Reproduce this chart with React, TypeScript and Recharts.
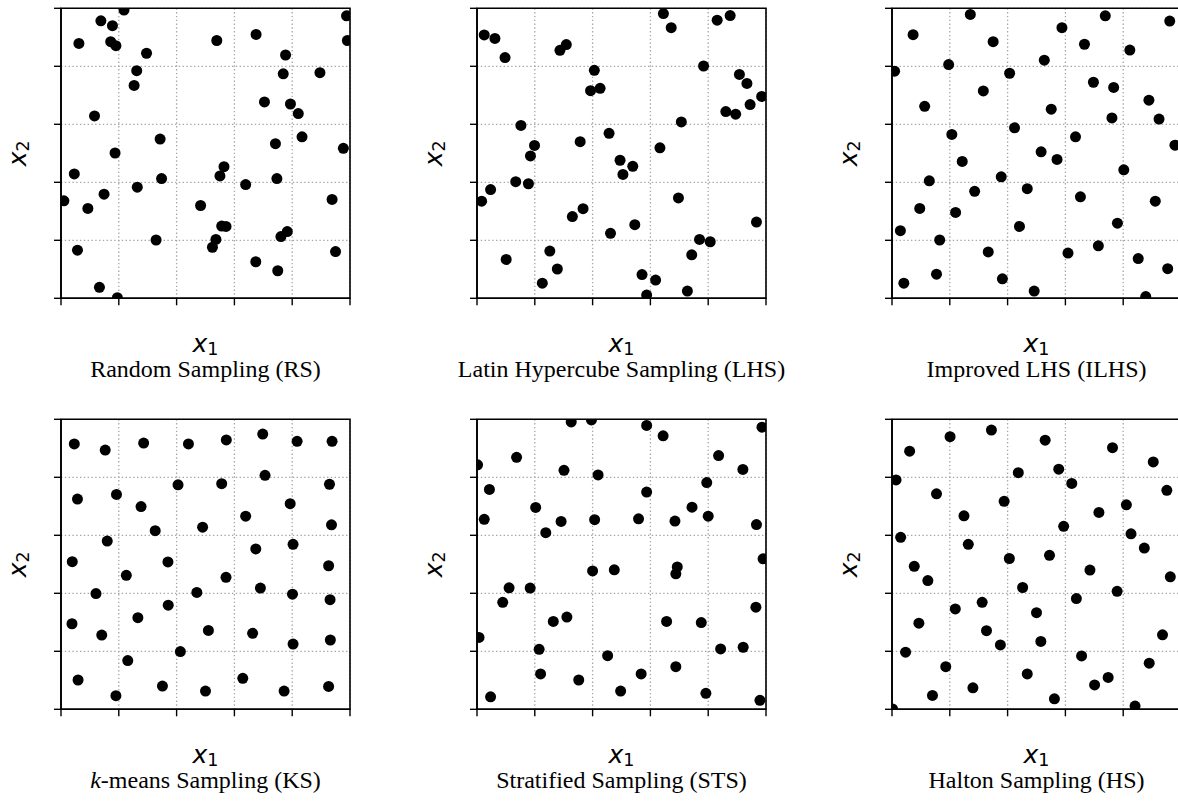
import React from 'react';
import { ScatterChart, Scatter, XAxis, YAxis, CartesianGrid, ReferenceArea } from 'recharts';

type P = [number, number];

const axisTicks = [0, 0.2, 0.4, 0.6, 0.8, 1];

const rsPoints: P[] = [
  [0.218, 0.994], [0.138, 0.957], [0.178, 0.94], [0.062, 0.879], [0.172, 0.885],
  [0.19, 0.871], [0.296, 0.845], [0.262, 0.785], [0.253, 0.734], [0.116, 0.629],
  [0.343, 0.549], [0.187, 0.501], [0.046, 0.429], [0.348, 0.413], [0.264, 0.383],
  [0.149, 0.359], [0.01, 0.336], [0.093, 0.31], [0.329, 0.201], [0.057, 0.166],
  [0.133, 0.038], [0.195, 0.002], [0.539, 0.889], [0.675, 0.91], [0.988, 0.974],
  [0.991, 0.889], [0.777, 0.839], [0.769, 0.774], [0.896, 0.778], [0.704, 0.677],
  [0.794, 0.67], [0.821, 0.637], [0.834, 0.557], [0.742, 0.533], [0.977, 0.517],
  [0.564, 0.454], [0.55, 0.422], [0.639, 0.392], [0.747, 0.413], [0.938, 0.341],
  [0.483, 0.32], [0.556, 0.249], [0.571, 0.248], [0.783, 0.23], [0.761, 0.213],
  [0.536, 0.203], [0.524, 0.176], [0.95, 0.161], [0.674, 0.126], [0.75, 0.095],
];

const lhsPoints: P[] = [
  [0.025, 0.908], [0.062, 0.896], [0.097, 0.83], [0.287, 0.855], [0.309, 0.875],
  [0.645, 0.982], [0.672, 0.933], [0.831, 0.959], [0.876, 0.975], [0.784, 0.801],
  [0.406, 0.786], [0.393, 0.716], [0.426, 0.724], [0.908, 0.772], [0.934, 0.741],
  [0.985, 0.696], [0.945, 0.668], [0.861, 0.644], [0.895, 0.635], [0.707, 0.608],
  [0.152, 0.596], [0.457, 0.569], [0.357, 0.54], [0.199, 0.527], [0.185, 0.491],
  [0.633, 0.519], [0.495, 0.476], [0.539, 0.455], [0.505, 0.427], [0.134, 0.402],
  [0.178, 0.395], [0.047, 0.375], [0.016, 0.335], [0.697, 0.346], [0.367, 0.309],
  [0.33, 0.282], [0.546, 0.254], [0.462, 0.224], [0.967, 0.263], [0.77, 0.203],
  [0.807, 0.195], [0.252, 0.163], [0.101, 0.134], [0.278, 0.101], [0.743, 0.15],
  [0.226, 0.052], [0.571, 0.082], [0.618, 0.063], [0.587, 0.011], [0.728, 0.025],
];

const ilhsPoints: P[] = [
  [0.271, 0.979], [0.073, 0.909], [0.35, 0.885], [0.588, 0.933], [0.738, 0.974],
  [0.961, 0.956], [0.666, 0.876], [0.823, 0.856], [0.527, 0.821], [0.196, 0.806],
  [0.009, 0.783], [0.407, 0.776], [0.697, 0.745], [0.767, 0.727], [0.316, 0.715],
  [0.113, 0.662], [0.551, 0.652], [0.889, 0.683], [0.761, 0.622], [0.924, 0.618],
  [0.424, 0.588], [0.207, 0.565], [0.635, 0.557], [0.979, 0.528], [0.516, 0.505],
  [0.571, 0.479], [0.243, 0.472], [0.802, 0.443], [0.378, 0.419], [0.129, 0.405],
  [0.468, 0.378], [0.286, 0.369], [0.652, 0.35], [0.911, 0.335], [0.096, 0.31],
  [0.22, 0.296], [0.441, 0.248], [0.78, 0.259], [0.029, 0.233], [0.165, 0.201],
  [0.333, 0.16], [0.609, 0.156], [0.714, 0.181], [0.852, 0.137], [0.954, 0.102],
  [0.154, 0.083], [0.041, 0.052], [0.382, 0.067], [0.492, 0.025], [0.878, 0.006],
];

const ksPoints: P[] = [
  [0.046, 0.915], [0.153, 0.894], [0.286, 0.918], [0.441, 0.915], [0.572, 0.929],
  [0.698, 0.949], [0.817, 0.924], [0.938, 0.924], [0.706, 0.807], [0.405, 0.774],
  [0.556, 0.778], [0.929, 0.776], [0.057, 0.725], [0.192, 0.741], [0.277, 0.699],
  [0.793, 0.709], [0.639, 0.666], [0.326, 0.616], [0.49, 0.628], [0.936, 0.636],
  [0.16, 0.58], [0.803, 0.569], [0.674, 0.553], [0.039, 0.509], [0.37, 0.508],
  [0.926, 0.495], [0.226, 0.462], [0.571, 0.455], [0.69, 0.418], [0.121, 0.399],
  [0.47, 0.403], [0.801, 0.397], [0.931, 0.378], [0.371, 0.359], [0.266, 0.316],
  [0.038, 0.295], [0.141, 0.256], [0.51, 0.272], [0.663, 0.262], [0.803, 0.225],
  [0.932, 0.239], [0.413, 0.199], [0.231, 0.168], [0.059, 0.101], [0.629, 0.107],
  [0.351, 0.08], [0.19, 0.047], [0.5, 0.063], [0.772, 0.063], [0.926, 0.079],
];

const stsPoints: P[] = [
  [0.326, 0.991], [0.396, 0.998], [0.587, 0.979], [0.644, 0.943], [0.986, 0.973],
  [0.002, 0.843], [0.137, 0.869], [0.301, 0.824], [0.419, 0.808], [0.836, 0.875],
  [0.92, 0.827], [0.795, 0.782], [0.043, 0.758], [0.587, 0.749], [0.203, 0.696],
  [0.744, 0.697], [0.025, 0.655], [0.291, 0.648], [0.407, 0.654], [0.559, 0.657],
  [0.685, 0.649], [0.8, 0.666], [0.967, 0.637], [0.238, 0.609], [0.99, 0.519],
  [0.4, 0.477], [0.475, 0.481], [0.693, 0.491], [0.688, 0.467], [0.111, 0.419],
  [0.184, 0.418], [0.089, 0.369], [0.965, 0.352], [0.264, 0.303], [0.311, 0.318],
  [0.656, 0.303], [0.776, 0.299], [0.007, 0.248], [0.215, 0.207], [0.843, 0.208],
  [0.921, 0.214], [0.452, 0.185], [0.22, 0.122], [0.688, 0.147], [0.568, 0.122],
  [0.352, 0.101], [0.497, 0.063], [0.047, 0.043], [0.792, 0.055], [0.979, 0.031],
];

const hsPoints: P[] = [
  [0.344, 0.963], [0.201, 0.94], [0.53, 0.928], [0.763, 0.902], [0.061, 0.89],
  [0.904, 0.853], [0.437, 0.816], [0.577, 0.828], [0.014, 0.791], [0.622, 0.779],
  [0.951, 0.755], [0.154, 0.743], [0.388, 0.717], [0.811, 0.705], [0.716, 0.679],
  [0.249, 0.667], [0.594, 0.631], [0.03, 0.593], [0.827, 0.605], [0.264, 0.569],
  [0.873, 0.556], [0.406, 0.52], [0.545, 0.531], [0.077, 0.493], [0.685, 0.48],
  [0.963, 0.457], [0.124, 0.444], [0.452, 0.42], [0.779, 0.407], [0.638, 0.382],
  [0.312, 0.369], [0.219, 0.346], [0.5, 0.333], [0.093, 0.297], [0.327, 0.271],
  [0.936, 0.257], [0.515, 0.234], [0.375, 0.222], [0.047, 0.197], [0.656, 0.184],
  [0.89, 0.159], [0.186, 0.147], [0.468, 0.122], [0.748, 0.11], [0.701, 0.084],
  [0.28, 0.074], [0.14, 0.048], [0.562, 0.036], [0.841, 0.011], [0.002, 0.001],
];

const titles = [
  'Random Sampling (RS)',
  'Latin Hypercube Sampling (LHS)',
  'Improved LHS (ILHS)',
  '-means Sampling (KS)',
  'Stratified Sampling (STS)',
  'Halton Sampling (HS)',
];
const italicPrefixes = ['', '', '', 'k', '', ''];
const allPoints = [rsPoints, lhsPoints, ilhsPoints, ksPoints, stsPoints, hsPoints];

const SERIF = "'Liberation Serif', 'DejaVu Serif', serif";

const makeXLabel = (title: string, prefix: string) => (props: any) => {
  const vb = props.viewBox || {};
  const cx = vb.x + vb.width / 2;
  const yb = vb.y;
  return (
    <g>
      <text x={cx} y={yb + 53.4} textAnchor="middle" fontFamily="DejaVu Sans" fontSize={25} fill="#000">
        <tspan fontStyle="italic">x</tspan>
        <tspan fontSize={17.5} dy={3}>1</tspan>
      </text>
      <text x={cx} y={yb + 79} textAnchor="middle" fontFamily={SERIF} fontSize={24} fill="#000">
        {prefix ? (
          <tspan fontFamily={SERIF} fontStyle="italic">
            {prefix}
          </tspan>
        ) : null}
        <tspan fontFamily={SERIF}>{title}</tspan>
      </text>
    </g>
  );
};

const renderYLabel = (props: any) => {
  const vb = props.viewBox || {};
  const plotLeft = vb.x + vb.width;
  const tx = plotLeft - 35;
  const ty = vb.y + vb.height / 2;
  return (
    <text
      x={tx}
      y={ty}
      transform={`rotate(-90, ${tx}, ${ty})`}
      textAnchor="middle"
      fontFamily="DejaVu Sans"
      fontSize={25}
      fill="#000"
    >
      <tspan fontStyle="italic">x</tspan>
      <tspan fontSize={17.5} dy={3}>2</tspan>
    </text>
  );
};

const renderNoTick = () => <g />;

const renderDot = (p: any) => <circle cx={p.cx} cy={p.cy} r={5.5} fill="#000" />;

function Panel({ idx }: { idx: number }) {
  const col = idx % 3;
  const row = Math.floor(idx / 3);
  const data = allPoints[idx].map(([x, y]) => ({ x, y }));
  return (
    <div style={{ position: 'absolute', left: col * 415.5, top: row * 411 }}>
      <ScatterChart width={416} height={411} margin={{ top: 8.3, left: 51, right: 66, bottom: 102.7 }}>
        <CartesianGrid stroke="#a6a6a6" strokeDasharray="1.4 2.4" strokeWidth={1.3} />
        <XAxis
          type="number"
          dataKey="x"
          domain={[0, 1]}
          ticks={axisTicks}
          interval={0}
          allowDataOverflow
          tick={renderNoTick}
          tickSize={7}
          height={10}
          axisLine={{ stroke: '#000', strokeWidth: 1.6 }}
          tickLine={{ stroke: '#000', strokeWidth: 1.4 }}
          label={makeXLabel(titles[idx], italicPrefixes[idx])}
        />
        <YAxis
          type="number"
          dataKey="y"
          domain={[0, 1]}
          ticks={axisTicks}
          interval={0}
          allowDataOverflow
          tick={renderNoTick}
          tickSize={7}
          width={10}
          axisLine={{ stroke: '#000', strokeWidth: 1.6 }}
          tickLine={{ stroke: '#000', strokeWidth: 1.4 }}
          label={renderYLabel}
        />
        <ReferenceArea x1={0} x2={1} y1={0} y2={1} fill="none" fillOpacity={0} stroke="#000" strokeWidth={1.6} />
        <Scatter data={data} isAnimationActive={false} shape={renderDot} />
      </ScatterChart>
    </div>
  );
}

export default function App() {
  return (
    <div
      style={{
        position: 'absolute',
        left: 0,
        top: 0,
        width: 1178,
        height: 801,
        overflow: 'hidden',
        background: '#fff',
      }}
    >
      {[0, 1, 2, 3, 4, 5].map((i) => (
        <Panel key={i} idx={i} />
      ))}
    </div>
  );
}
